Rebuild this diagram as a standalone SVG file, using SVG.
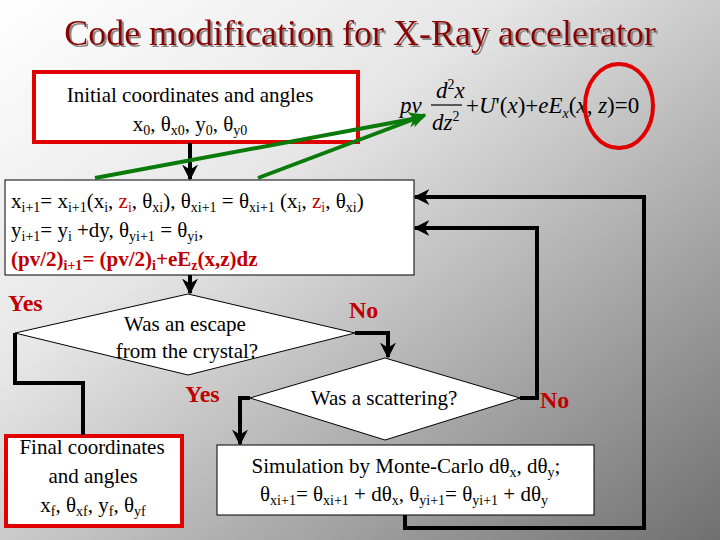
<svg xmlns="http://www.w3.org/2000/svg" width="720" height="540" viewBox="0 0 720 540">
<defs>
<linearGradient id="bg" x1="0" y1="0" x2="1" y2="1"><stop offset="0" stop-color="#ffffff"/><stop offset="0.35" stop-color="#e6e6e6"/><stop offset="1" stop-color="#707070"/></linearGradient>
<marker id="ak" viewBox="0 0 10 10" refX="9" refY="5" markerWidth="4" markerHeight="4" orient="auto"><path d="M0,0 L10,5 L0,10 L3,5 z" fill="#000"/></marker>
<marker id="ag" viewBox="0 0 10 10" refX="9" refY="5" markerWidth="4" markerHeight="4" orient="auto"><path d="M0,0 L10,5 L0,10 L3,5 z" fill="#0a7a0a"/></marker>
<filter id="sh" x="-5%" y="-20%" width="110%" height="140%"><feDropShadow dx="2" dy="2" stdDeviation="0.5" flood-color="#888"/></filter>
</defs>
<style>
text{fill:#000;font-family:"Times New Roman","Liberation Serif","DejaVu Serif",serif}
.t{font-size:21px}
.r{fill:#c00000}
.lab{font-size:24px;font-weight:bold;fill:#c00000}
.box{fill:#fff;stroke:#000;stroke-width:1}
.rbox{fill:#fff;stroke:#e00000;stroke-width:4}
.c{fill:none;stroke:#000;stroke-width:4}
.g{fill:none;stroke:#0a7a0a;stroke-width:4}
.eq{font-style:italic;font-size:23px}
</style>
<rect width="720" height="540" fill="url(#bg)"/>
<text x="360" y="45" text-anchor="middle" font-size="36" filter="url(#sh)" style="fill:#8b0000">Code modification for X-Ray accelerator</text>

<g id="equation">
<text x="400" y="113" class="eq">pv</text>
<text x="436" y="98" class="eq">d<tspan font-size="14" dy="-9" font-style="normal">2</tspan><tspan dy="9">x</tspan></text>
<line x1="431" y1="105" x2="462" y2="105" stroke="#000" stroke-width="1.2"/>
<text x="432" y="130" class="eq">dz<tspan font-size="14" dy="-9" font-style="normal">2</tspan></text>
<text x="466" y="113" class="eq"><tspan font-style="normal">+</tspan>U<tspan font-style="normal">'(</tspan>x<tspan font-style="normal">)+</tspan>eE<tspan font-size="14" dy="5">x</tspan><tspan dy="-5" font-style="normal">(</tspan>x<tspan font-style="normal">,</tspan> z<tspan font-style="normal">)=0</tspan></text>
<ellipse cx="619" cy="106" rx="34" ry="42" fill="none" stroke="#e00000" stroke-width="4"/>
</g>

<g id="initial">
<rect x="34" y="72" width="324" height="70" class="rbox"/>
<text x="190" y="102" text-anchor="middle" class="t">Initial coordinates and angles</text>
<text x="190" y="131" text-anchor="middle" class="t">x<tspan font-size="14" dy="4">0</tspan><tspan dy="-4">, θ</tspan><tspan font-size="14" dy="4">x0</tspan><tspan dy="-4">, y</tspan><tspan font-size="14" dy="4">0</tspan><tspan dy="-4">, θ</tspan><tspan font-size="14" dy="4">y0</tspan></text>
</g>

<g id="step">
<rect x="5" y="180" width="409" height="95" class="box"/>
<text x="11" y="208" class="t">x<tspan font-size="14" dy="4">i+1</tspan><tspan dy="-4">= x</tspan><tspan font-size="14" dy="4">i+1</tspan><tspan dy="-4">(x</tspan><tspan font-size="14" dy="4">i</tspan><tspan dy="-4">, </tspan><tspan class="r">z</tspan><tspan class="r" font-size="14" dy="4">i</tspan><tspan dy="-4">, θ</tspan><tspan font-size="14" dy="4">xi</tspan><tspan dy="-4">), θ</tspan><tspan font-size="14" dy="4">xi+1</tspan><tspan dy="-4"> = θ</tspan><tspan font-size="14" dy="4">xi+1</tspan><tspan dy="-4"> (x</tspan><tspan font-size="14" dy="4">i</tspan><tspan dy="-4">, </tspan><tspan class="r">z</tspan><tspan class="r" font-size="14" dy="4">i</tspan><tspan dy="-4">, θ</tspan><tspan font-size="14" dy="4">xi</tspan><tspan dy="-4">)</tspan></text>
<text x="11" y="237" class="t">y<tspan font-size="14" dy="4">i+1</tspan><tspan dy="-4">= y</tspan><tspan font-size="14" dy="4">i</tspan><tspan dy="-4"> +dy, θ</tspan><tspan font-size="14" dy="4">yi+1</tspan><tspan dy="-4"> = θ</tspan><tspan font-size="14" dy="4">yi</tspan><tspan dy="-4">,</tspan></text>
<text x="11" y="266" class="t r" font-weight="bold">(pv/2)<tspan font-size="14" dy="4">i+1</tspan><tspan dy="-4">= (pv/2)</tspan><tspan font-size="14" dy="4">i</tspan><tspan dy="-4">+eE</tspan><tspan font-size="14" dy="4">z</tspan><tspan dy="-4">(x,z)dz</tspan></text>
</g>

<g id="escape">
<polygon points="15,333 188,294 355,333 188,375" class="box"/>
<text x="185" y="331" text-anchor="middle" class="t">Was an escape</text>
<text x="187" y="358" text-anchor="middle" class="t">from the crystal?</text>
</g>

<g id="scatter">
<polygon points="250,398 385,358 520,398 385,440" class="box"/>
<text x="384" y="405" text-anchor="middle" class="t">Was a scattering?</text>
</g>

<g id="final">
<rect x="6" y="436" width="176" height="90" class="rbox"/>
<text x="92" y="454" text-anchor="middle" class="t">Final coordinates</text>
<text x="93" y="483" text-anchor="middle" class="t">and angles</text>
<text x="93" y="512" text-anchor="middle" class="t">x<tspan font-size="14" dy="4">f</tspan><tspan dy="-4">, θ</tspan><tspan font-size="14" dy="4">xf</tspan><tspan dy="-4">, y</tspan><tspan font-size="14" dy="4">f</tspan><tspan dy="-4">, θ</tspan><tspan font-size="14" dy="4">yf</tspan></text>
</g>

<g id="montecarlo">
<rect x="217" y="445" width="377" height="70" class="box"/>
<text x="406" y="473" text-anchor="middle" class="t">Simulation by Monte-Carlo dθ<tspan font-size="14" dy="4">x</tspan><tspan dy="-4">, dθ</tspan><tspan font-size="14" dy="4">y</tspan><tspan dy="-4">;</tspan></text>
<text x="404" y="501" text-anchor="middle" class="t">θ<tspan font-size="14" dy="4">xi+1</tspan><tspan dy="-4">= θ</tspan><tspan font-size="14" dy="4">xi+1</tspan><tspan dy="-4"> + dθ</tspan><tspan font-size="14" dy="4">x</tspan><tspan dy="-4">, θ</tspan><tspan font-size="14" dy="4">yi+1</tspan><tspan dy="-4">= θ</tspan><tspan font-size="14" dy="4">yi+1</tspan><tspan dy="-4"> + dθ</tspan><tspan font-size="14" dy="4">y</tspan></text>
</g>

<g id="connectors">
<path d="M190,143 V179" class="c" marker-end="url(#ak)"/>
<path d="M190,275 V293" class="c" marker-end="url(#ak)"/>
<path d="M15,333 V383 H83 V435" class="c"/>
<path d="M355,333 H388 V357" class="c" marker-end="url(#ak)"/>
<path d="M250,398 H240 V444" class="c" marker-end="url(#ak)"/>
<path d="M520,398 H537 V228 H415" class="c" marker-end="url(#ak)"/>
<path d="M405,515 V528 H644 V197 H415" class="c" marker-end="url(#ak)"/>
<path d="M95,178 L423,117" class="g" marker-end="url(#ag)"/>
<path d="M258,178 L425,115" class="g" marker-end="url(#ag)"/>
<text x="8" y="311" class="lab">Yes</text>
<text x="349" y="318" class="lab">No</text>
<text x="185" y="402" class="lab">Yes</text>
<text x="540" y="408" class="lab">No</text>
</g>
</svg>
